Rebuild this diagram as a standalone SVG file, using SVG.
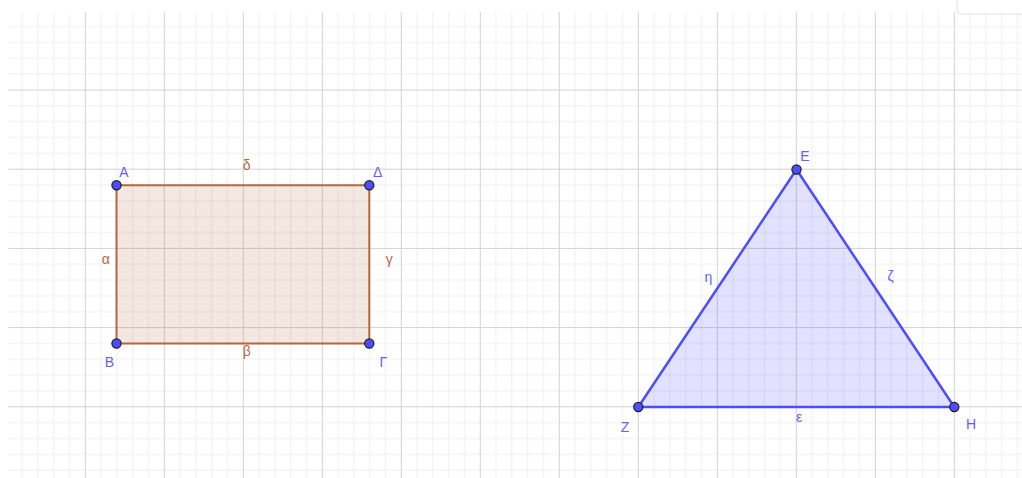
<svg xmlns="http://www.w3.org/2000/svg" width="1022" height="478" viewBox="0 0 1022 478">
<style>
.minor{stroke:#efefef;stroke-width:1;fill:none}
.major{stroke:#d2d2d2;stroke-width:1;fill:none}
.pt{fill:#4d4dff;stroke:#1e1e1e;stroke-width:1.2}
.lb{font-family:"Liberation Sans","DejaVu Sans",sans-serif;font-size:14px;text-anchor:middle}
.lbB{fill:#6262f5}
.lbR{fill:#b5673f}
</style>
<defs>
<pattern id="mg" x="85.3" y="90" width="79" height="79.2" patternUnits="userSpaceOnUse">
<path class="minor" d="M15.8 0V79.2M31.6 0V79.2M47.4 0V79.2M63.2 0V79.2M0 15.84H79M0 31.68H79M0 47.52H79M0 63.36H79"/>
</pattern>
</defs>
<rect width="1022" height="478" fill="#fff"/>
<g id="grid">
<rect x="8" y="12" width="1014" height="466" fill="url(#mg)"/>
<path class="major" d="M85.3 12V478M164.3 12V478M243.3 12V478M322.3 12V478M401.3 12V478M480.3 12V478M559.3 12V478M638.3 12V478M717.3 12V478M796.3 12V478M875.3 12V478M954.3 12V478M8 90H1022M8 169.2H1022M8 248.4H1022M8 327.6H1022M8 406.8H1022"/>
</g>
<rect x="957" y="-6" width="80" height="20" rx="4" fill="#fff" stroke="#e2e2e2"/>
<g id="rectangle">
<polygon points="116.5,185.3 369.3,185.3 369.3,343.5 116.5,343.5" fill="#9b4a1a" fill-opacity="0.13" stroke="#b5673f" stroke-width="2"/>
</g>
<g id="triangle">
<polygon points="796.5,169.5 954.3,407 638.3,407" fill="#4d4dff" fill-opacity="0.16" stroke="#4d4dff" stroke-width="2.5" stroke-linejoin="round"/>
</g>
<g id="connectors"></g>
<g id="nodeA"><circle class="pt" cx="116.5" cy="185.3" r="4.6"/><text class="lb lbB" x="124" y="176.7">A</text></g>
<g id="nodeDelta"><circle class="pt" cx="369.3" cy="185.3" r="4.6"/><text class="lb lbB" x="377.7" y="176.7">Δ</text></g>
<g id="nodeB"><circle class="pt" cx="116.5" cy="343.5" r="4.6"/><text class="lb lbB" x="109.3" y="367.3">B</text></g>
<g id="nodeGamma"><circle class="pt" cx="369.3" cy="343.5" r="4.6"/><text class="lb lbB" x="383.3" y="367.3">Γ</text></g>
<g id="nodeE"><circle class="pt" cx="796.5" cy="169.5" r="4.6"/><text class="lb lbB" x="805" y="160.7">E</text></g>
<g id="nodeZ"><circle class="pt" cx="638.3" cy="407" r="4.6"/><text class="lb lbB" x="625" y="431.7">Z</text></g>
<g id="nodeH"><circle class="pt" cx="954.3" cy="407" r="4.6"/><text class="lb lbB" x="971" y="429">H</text></g>
<g id="sideLabels">
<text class="lb lbR" x="246.7" y="170">δ</text>
<text class="lb lbR" x="105.7" y="264.3">α</text>
<text class="lb lbR" x="389.3" y="264">γ</text>
<text class="lb lbR" x="246.7" y="356">β</text>
<text class="lb lbB" x="708.3" y="281.7">η</text>
<text class="lb lbB" x="890.7" y="281">ζ</text>
<text class="lb lbB" x="799" y="421.7">ε</text>
</g>
</svg>
